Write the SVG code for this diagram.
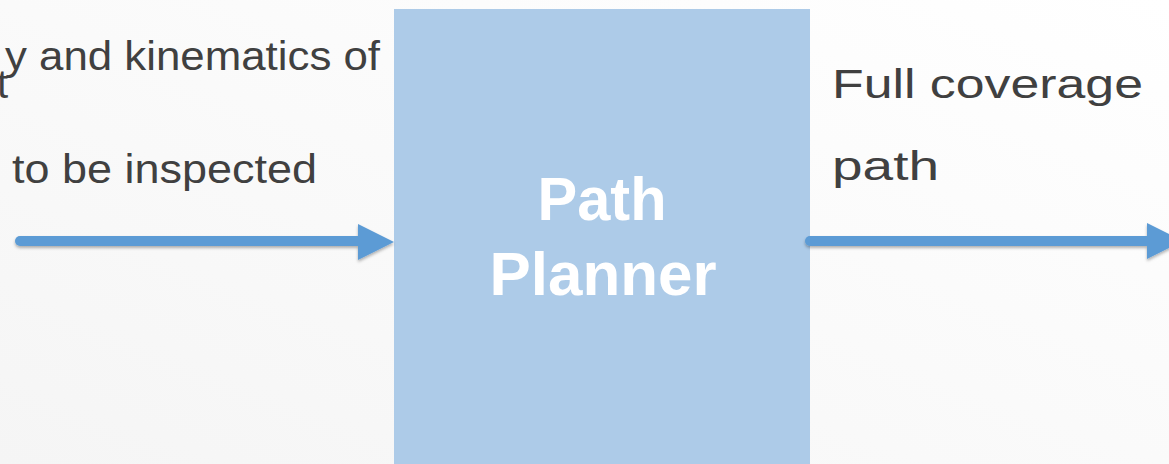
<svg xmlns="http://www.w3.org/2000/svg" width="1169" height="464" viewBox="0 0 1169 464">
  <defs>
    <linearGradient id="bg" x1="0" y1="1" x2="1" y2="0">
      <stop offset="0" stop-color="#f5f5f5"/>
      <stop offset="1" stop-color="#ffffff"/>
    </linearGradient>
    <filter id="sh" x="-5%" y="-50%" width="110%" height="200%">
      <feDropShadow dx="0" dy="2" stdDeviation="1.5" flood-color="#000" flood-opacity="0.3"/>
    </filter>
    <style>
      .lbl { font-family: "Liberation Sans", Arial, sans-serif; fill: #404040; font-size: 40px; }
      .node-text { font-family: "Liberation Sans", Arial, sans-serif; fill: #ffffff; font-size: 62px; font-weight: bold; text-anchor: middle; }
      .conn { stroke: #5b9bd5; stroke-width: 10; stroke-linecap: round; fill: none; }
      .head { fill: #5b9bd5; }
    </style>
  </defs>
  <rect x="0" y="0" width="1169" height="464" fill="url(#bg)"/>

  <g id="input-labels">
    <text class="lbl" x="5" y="70" textLength="375" lengthAdjust="spacingAndGlyphs">y and kinematics of</text>
    <text class="lbl" x="-3" y="98">t</text>
    <text class="lbl" x="12" y="183" textLength="305" lengthAdjust="spacingAndGlyphs">to be inspected</text>
  </g>

  <g id="path-planner">
    <rect x="394" y="9" width="416" height="460" fill="#adcbe8"/>
    <text class="node-text" x="602" y="220" textLength="129" lengthAdjust="spacingAndGlyphs">Path</text>
    <text class="node-text" x="603" y="295" textLength="227" lengthAdjust="spacingAndGlyphs">Planner</text>
  </g>

  <g id="output-labels">
    <text class="lbl" x="832" y="98" textLength="311" lengthAdjust="spacingAndGlyphs">Full coverage</text>
    <text class="lbl" x="832" y="180" textLength="107" lengthAdjust="spacingAndGlyphs">path</text>
  </g>

  <g id="connectors" filter="url(#sh)">
    <line class="conn" x1="20" y1="241" x2="362" y2="241"/>
    <polygon class="head" points="358,224 394,242 358,260"/>
    <line class="conn" x1="810" y1="241" x2="1150" y2="241"/>
    <polygon class="head" points="1147,223 1183,241 1147,259"/>
  </g>
</svg>
